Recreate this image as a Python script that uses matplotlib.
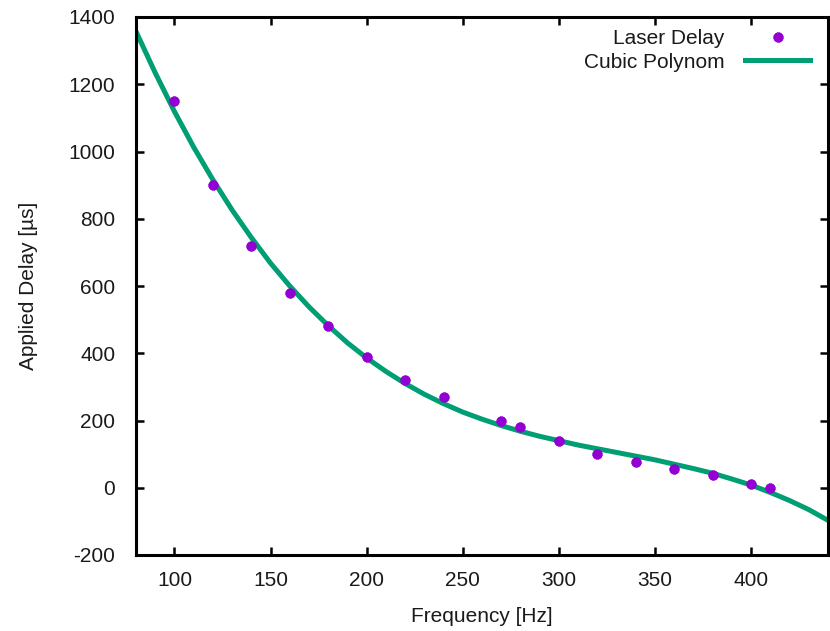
import matplotlib
matplotlib.use('Agg')
import matplotlib.pyplot as plt

plt.rcParams['font.family'] = ['Liberation Sans', 'DejaVu Sans']
plt.rcParams['axes.unicode_minus'] = False

# measured laser delay
freq = [100, 120, 140, 160, 180, 200, 220, 240, 270, 280, 300, 320, 340, 360, 380, 400, 410]
delay = [1150, 900, 720, 580, 480, 390, 320, 270, 200, 180, 140, 100, 78, 57, 37, 12, 0]

# cubic polynom curve, every 10 Hz
fit_freq = [80, 90, 100, 110, 120, 130, 140, 150, 160, 170, 180, 190, 200, 210, 220, 230,
            240, 250, 260, 270, 280, 290, 300, 310, 320, 330, 340, 350, 360, 370, 380, 390,
            400, 410, 420, 430, 440]
fit_delay = [1357, 1234, 1119, 1013, 916, 826, 744, 668, 600, 538, 482, 431, 386, 346, 310, 278,
             250, 225, 204, 185, 168, 153, 140, 127, 116, 105, 94, 83, 70, 57, 43, 26,
             8, -14, -38, -65, -97]

txt = '#1a1a1a'
fs = 15

fig = plt.figure(figsize=(8.3, 6.31), dpi=100)
ax = fig.add_axes([136/830, 1 - 555/631, 692/830, 538/631])

ax.plot(freq, delay, linestyle='none', marker=(8, 2, 0), markersize=7, markeredgewidth=2.5,
        color='#9400d3', label='Laser Delay', zorder=3)
ax.plot(fit_freq, fit_delay, color='#009e73', linewidth=3.6, label='Cubic Polynom', zorder=2)

ax.set_xlim(80, 440)
ax.set_ylim(-200, 1400)
ax.set_xticks([100, 150, 200, 250, 300, 350, 400])
ax.set_yticks(range(-200, 1401, 200))

for s in ax.spines.values():
    s.set_linewidth(2.2)
ax.tick_params(direction='in', length=6, width=1.8, top=True, right=True,
               labelsize=fs, labelcolor=txt)
ax.tick_params(axis='y', pad=15)
ax.tick_params(axis='x', pad=11.5)

ax.set_xlabel('Frequency [Hz]', fontsize=fs, color=txt, labelpad=12.5)
ax.set_ylabel('Applied Delay [µs]', fontsize=fs, color=txt, labelpad=22)

leg = ax.legend(loc='upper right', bbox_to_anchor=(0.992, 1.0), frameon=False,
                markerfirst=False, fontsize=fs, handlelength=3.1, borderaxespad=0.2,
                labelspacing=0.2, handletextpad=1.0)
for t in leg.get_texts():
    t.set_color(txt)

fig.savefig('out.png', dpi=100)
